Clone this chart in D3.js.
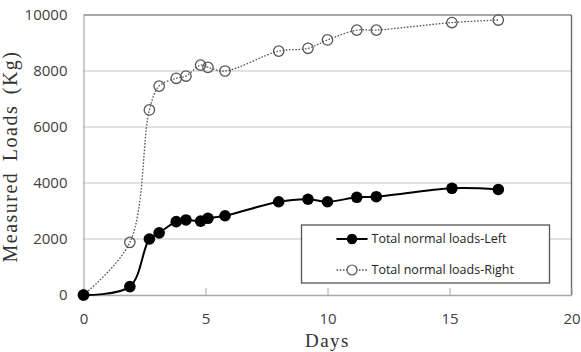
<!DOCTYPE html>
<html>
<head>
<meta charset="utf-8">
<script src="https://cdn.jsdelivr.net/npm/d3@7"></script>
<style>
  body { margin: 0; background: #fff; }
  svg { display: block; }
  .tick text { font-family: "Open Sans", sans-serif; fill: #404040; }
</style>
</head>
<body>
<div id="chart"></div>
<script>
// days of measurement (shared by both series)
var days = [0, 1.9, 2.7, 3.1, 3.8, 4.2, 4.8, 5.1, 5.8, 8, 9.2, 10, 11.2, 12, 15.1, 17];
var loadsLeft = [0, 300, 2000, 2220, 2620, 2680, 2640, 2740, 2830, 3330, 3420, 3330, 3490, 3510, 3810, 3770];
var loadsRight = [0, 1880, 6610, 7460, 7740, 7820, 8210, 8130, 8000, 8710, 8810, 9110, 9460, 9460, 9730, 9820];
var seriesNames = ['Total normal loads-Left', 'Total normal loads-Right'];
var xTicks = [0, 5, 10, 15, 20];
var yTicks = [0, 2000, 4000, 6000, 8000, 10000];

var width = 581, height = 352;
var plot = { left: 83.5, right: 571.5, top: 15, bottom: 295 };

var svg = d3.select('#chart').append('svg')
    .attr('width', width).attr('height', height);

var x = d3.scaleLinear().domain([0, 20]).range([plot.left, plot.right]);
var y = d3.scaleLinear().domain([0, 10000]).range([plot.bottom, plot.top]);

// horizontal gridlines
svg.append('g')
    .selectAll('line')
    .data(yTicks.slice(1, -1))
    .enter().append('line')
    .attr('x1', plot.left).attr('x2', plot.right)
    .attr('y1', function(d) { return y(d); })
    .attr('y2', function(d) { return y(d); })
    .attr('stroke', '#c4c4c4').attr('stroke-width', 1.2);

// plot frame
svg.append('line')
    .attr('x1', plot.left).attr('x2', plot.right)
    .attr('y1', plot.top).attr('y2', plot.top)
    .attr('stroke', '#8a8a8a').attr('stroke-width', 1.4);
svg.append('line')
    .attr('x1', plot.right).attr('x2', plot.right)
    .attr('y1', plot.top).attr('y2', plot.bottom)
    .attr('stroke', '#6a6a6a').attr('stroke-width', 1.4);

// y axis
var yAxis = d3.axisLeft(y).tickValues(yTicks).tickFormat(d3.format('d'))
    .tickSize(0).tickPadding(16);
var gy = svg.append('g')
    .attr('transform', 'translate(' + plot.left + ',0)')
    .call(yAxis);
gy.select('.domain').attr('stroke', '#a8a8a8').attr('stroke-width', 1.2);
gy.selectAll('.tick text').style('font-size', '15px');

// x axis, ticks pointing inward
var xAxis = d3.axisBottom(x).tickValues(xTicks).tickFormat(d3.format('d'))
    .tickSizeInner(-7).tickSizeOuter(0).tickPadding(18);
var gx = svg.append('g')
    .attr('transform', 'translate(0,' + plot.bottom + ')')
    .call(xAxis);
gx.select('.domain').attr('stroke', '#a8a8a8').attr('stroke-width', 1.4);
gx.selectAll('.tick line').attr('stroke', '#a8a8a8');
gx.selectAll('.tick text').style('font-size', '15px');

// axis titles
svg.append('text')
    .attr('transform', 'translate(17,' + 156.5 + ') rotate(-90)')
    .attr('text-anchor', 'middle')
    .style('font-family', '"Liberation Serif", serif')
    .style('font-size', '20px')
    .style('letter-spacing', '1.5px')
    .style('word-spacing', '4px')
    .attr('fill', '#333')
    .text('Measured Loads (Kg)');

svg.append('text')
    .attr('x', (plot.left + plot.right) / 2)
    .attr('y', 347)
    .attr('text-anchor', 'middle')
    .style('font-family', '"Liberation Serif", serif')
    .style('font-size', '19px')
    .style('letter-spacing', '1.5px')
    .attr('fill', '#333')
    .text('Days');

var line = d3.line()
    .x(function(d) { return x(d[0]); })
    .y(function(d) { return y(d[1]); })
    .curve(d3.curveCatmullRom.alpha(0.5));

var rightData = d3.zip(days, loadsRight);
var leftData = d3.zip(days, loadsLeft);

// right series: dotted line with hollow circles
svg.append('path')
    .datum(rightData)
    .attr('d', line)
    .attr('fill', 'none')
    .attr('stroke', '#555')
    .attr('stroke-width', 1.3)
    .attr('stroke-dasharray', '1.6,1.6');

svg.selectAll('.ptRight')
    .data(rightData)
    .enter().append('circle')
    .attr('class', 'ptRight')
    .attr('cx', function(d) { return x(d[0]); })
    .attr('cy', function(d) { return y(d[1]); })
    .attr('r', 5.2)
    .attr('fill', 'none')
    .attr('stroke', '#555')
    .attr('stroke-width', 1.3);

// left series: solid line with filled circles
svg.append('path')
    .datum(leftData)
    .attr('d', line)
    .attr('fill', 'none')
    .attr('stroke', '#000')
    .attr('stroke-width', 2);

svg.selectAll('.ptLeft')
    .data(leftData)
    .enter().append('circle')
    .attr('class', 'ptLeft')
    .attr('cx', function(d) { return x(d[0]); })
    .attr('cy', function(d) { return y(d[1]); })
    .attr('r', 5.8)
    .attr('fill', '#000');

// legend
var legend = svg.append('g').attr('transform', 'translate(301.5,225)');
legend.append('rect')
    .attr('width', 248).attr('height', 58)
    .attr('fill', '#fff')
    .attr('stroke', '#555').attr('stroke-width', 1.3);

var rows = legend.selectAll('.legendRow')
    .data(seriesNames)
    .enter().append('g')
    .attr('class', 'legendRow')
    .attr('transform', function(d, i) { return 'translate(0,' + (14 + i * 31) + ')'; });

rows.append('line')
    .attr('x1', 35).attr('x2', 66)
    .attr('stroke', function(d, i) { return i ? '#555' : '#000'; })
    .attr('stroke-width', function(d, i) { return i ? 1.3 : 2; })
    .attr('stroke-dasharray', function(d, i) { return i ? '1.6,1.6' : null; });

rows.append('circle')
    .attr('cx', 50.5)
    .attr('r', function(d, i) { return i ? 5 : 5.2; })
    .attr('fill', function(d, i) { return i ? '#fff' : '#000'; })
    .attr('stroke', function(d, i) { return i ? '#555' : 'none'; })
    .attr('stroke-width', 1.2);

rows.append('text')
    .attr('x', 70)
    .attr('dy', '0.35em')
    .style('font-family', '"Open Sans", sans-serif')
    .style('font-size', '12.5px')
    .attr('fill', '#222')
    .text(function(d) { return d; });
</script>
</body>
</html>
